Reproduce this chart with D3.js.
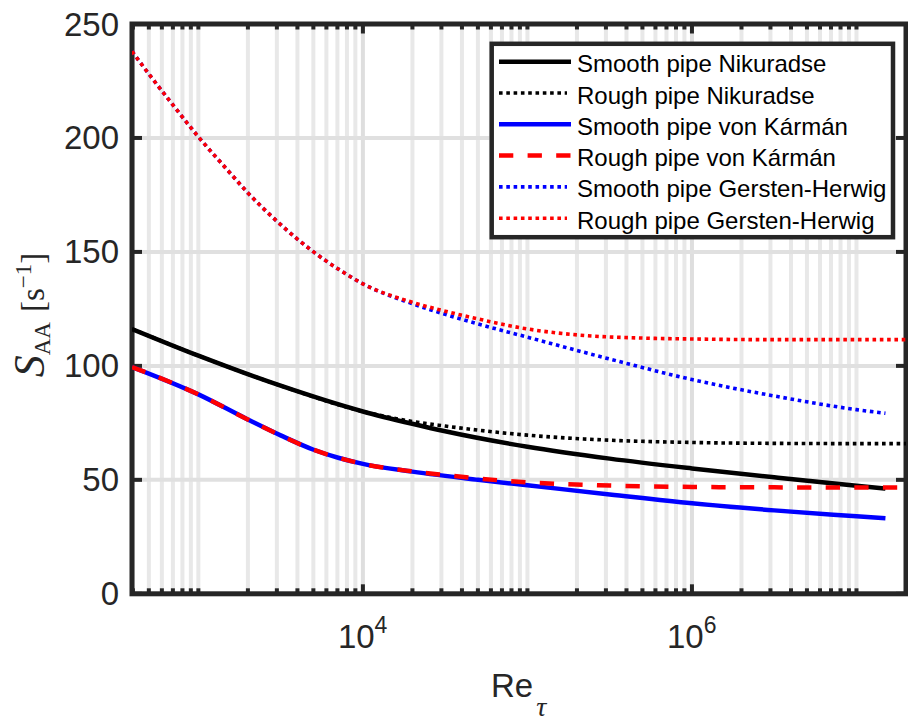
<!DOCTYPE html>
<html>
<head>
<meta charset="utf-8">
<script src="https://cdn.jsdelivr.net/npm/d3@7"></script>
<style>
  html, body { margin: 0; padding: 0; background: #fff; }
  svg { display: block; }
</style>
</head>
<body>
<div id="chart"></div>
<script>
// Re_tau sample points (log-spaced reads off the figure)
const reNikSmooth = [395, 1000, 3162, 1e4, 19953, 31623, 1e5, 316228, 1e6, 3162278, 1e7, 1.5e7];
const reNikRough  = [395, 1000, 3162, 1e4, 19953, 31623, 1e5, 316228, 1e6, 3162278, 1e7, 2e7];
const reKarSmooth = [395, 1000, 1995, 3162, 5012, 7079, 1e4, 19953, 50119, 1e5, 316228, 1e6, 3162278, 1e7, 1.5e7];
const reKarRough  = [395, 1000, 1995, 3162, 5012, 7079, 1e4, 19953, 31623, 50119, 1e5, 316228, 1e6, 3162278, 1e7, 2e7];
const reGerSmooth = [395, 501, 700, 1000, 1500, 1995, 3162, 5012, 7079, 1e4, 19953, 31623, 50119, 1e5, 316228, 1e6, 3162278, 1e7, 1.5e7];
const reGerRough  = [395, 501, 700, 1000, 1500, 1995, 3162, 5012, 7079, 1e4, 19953, 31623, 50119, 1e5, 199526, 501187, 1e6, 3162278, 2e7];

// S_AA [1/s]
const smoothNikuradse = [116.2, 104.5, 91.3, 80.0, 74.6, 71.3, 64.5, 59.3, 55.0, 51.1, 47.4, 46.2];
const roughNikuradse  = [116.2, 104.5, 91.3, 80.0, 75.6, 73.6, 69.6, 67.4, 66.4, 66.0, 65.9, 65.9];
const smoothKarman    = [99.5, 87.5, 76.5, 69.5, 63.2, 59.7, 57.0, 53.6, 50.0, 47.6, 43.6, 39.7, 36.6, 34.0, 33.1];
const roughKarman     = [99.5, 87.5, 76.5, 69.5, 63.2, 59.7, 57.0, 53.7, 52.1, 50.6, 48.9, 47.5, 46.9, 46.7, 46.6, 46.6];
const smoothGersten   = [238, 228, 214.5, 200.5, 186, 176, 162, 150, 142.5, 136, 127.3, 122.6, 118.4, 112.6, 103.0, 94.0, 86.8, 80.8, 79.2];
const roughGersten    = [238, 228, 214.5, 200.5, 186, 176, 162, 150, 142.5, 136, 127.9, 124.0, 120.6, 116.2, 113.6, 112.2, 111.8, 111.5, 111.5];

const yTicks = [0, 50, 100, 150, 200, 250];
const xMajorTicks = [1e4, 1e6];

const series = [
  { name: 'Smooth pipe Nikuradse',      re: reNikSmooth, v: smoothNikuradse, color: '#000000', style: 'solid' },
  { name: 'Rough pipe Nikuradse',       re: reNikRough,  v: roughNikuradse,  color: '#000000', style: 'dot' },
  { name: 'Smooth pipe von Kármán',     re: reKarSmooth, v: smoothKarman,    color: '#0000ff', style: 'solid' },
  { name: 'Rough pipe von Kármán',      re: reKarRough,  v: roughKarman,     color: '#ff0000', style: 'dash' },
  { name: 'Smooth pipe Gersten-Herwig', re: reGerSmooth, v: smoothGersten,   color: '#0000ff', style: 'dot' },
  { name: 'Rough pipe Gersten-Herwig',  re: reGerRough,  v: roughGersten,    color: '#ff0000', style: 'dot' }
];

const W = 908, H = 722;
const plot = { left: 132, right: 906, top: 24, bottom: 593.8 };
const AXIS = '#262626';
const SANS = "'Liberation Sans', Arial, Helvetica, sans-serif";
const SERIF = "'Liberation Serif', 'Times New Roman', serif";

const x = d3.scaleLog().domain([395, 2e7]).range([plot.left, plot.right]);
const y = d3.scaleLinear().domain([0, 250]).range([plot.bottom, plot.top]);

// minor positions 1..9 x 10^k inside the domain
const xMinor = [];
for (let k = 2; k <= 7; k++) {
  for (let m = 1; m <= 9; m++) {
    const v = m * Math.pow(10, k);
    if (v >= x.domain()[0] && v <= x.domain()[1]) xMinor.push(v);
  }
}

const svg = d3.select('#chart').append('svg').attr('width', W).attr('height', H);
svg.append('rect').attr('width', W).attr('height', H).attr('fill', '#fff');

// grid
const grid = svg.append('g');
grid.selectAll('.vgrid').data(xMinor).join('line')
  .attr('x1', d => x(d)).attr('x2', d => x(d))
  .attr('y1', plot.top).attr('y2', plot.bottom)
  .attr('stroke', d => xMajorTicks.includes(d) ? '#dedede' : '#e8e8e8')
  .attr('stroke-width', 4);
grid.selectAll('.hgrid').data(yTicks.slice(1, -1)).join('line')
  .attr('x1', plot.left).attr('x2', plot.right)
  .attr('y1', d => y(d)).attr('y2', d => y(d))
  .attr('stroke', '#e0e0e0').attr('stroke-width', 4);

// axes box and inward ticks
const ax = svg.append('g').attr('stroke', AXIS).attr('stroke-width', 4);
ax.selectAll('.xt').data(xMinor).join('g').each(function (d) {
  const len = xMajorTicks.includes(d) ? 9.5 : 5.5;
  d3.select(this).append('line').attr('x1', x(d)).attr('x2', x(d))
    .attr('y1', plot.bottom).attr('y2', plot.bottom - len);
  d3.select(this).append('line').attr('x1', x(d)).attr('x2', x(d))
    .attr('y1', plot.top).attr('y2', plot.top + len);
});
ax.selectAll('.yt').data(yTicks).join('g').each(function (d) {
  d3.select(this).append('line').attr('x1', plot.left).attr('x2', plot.left + 10)
    .attr('y1', y(d)).attr('y2', y(d));
  d3.select(this).append('line').attr('x1', plot.right).attr('x2', plot.right - 10)
    .attr('y1', y(d)).attr('y2', y(d));
});
svg.append('rect')
  .attr('x', plot.left).attr('y', plot.top)
  .attr('width', plot.right - plot.left).attr('height', plot.bottom - plot.top)
  .attr('fill', 'none').attr('stroke', AXIS).attr('stroke-width', 5);

// tick labels
svg.selectAll('.ylab').data(yTicks).join('text')
  .attr('x', 119).attr('y', d => y(d) + 11.5)
  .attr('text-anchor', 'end')
  .attr('font-family', SANS).attr('font-size', 33).attr('fill', AXIS)
  .text(d => d);

svg.selectAll('.xlab').data(xMajorTicks).join('text')
  .attr('x', d => x(d) - 25).attr('y', 648.3)
  .attr('font-family', SANS).attr('font-size', 33).attr('fill', AXIS)
  .each(function (d) {
    const t = d3.select(this);
    t.append('tspan').text('10');
    t.append('tspan').attr('font-size', 23).attr('dy', -15).text(Math.round(Math.log10(d)));
  });

// axis titles
const xt = svg.append('text')
  .attr('x', 491).attr('y', 697)
  .attr('font-family', SANS).attr('font-size', 33).attr('fill', AXIS);
xt.append('tspan').text('Re');
xt.append('tspan').attr('font-family', SERIF).attr('font-style', 'italic')
  .attr('font-size', 28).attr('dx', 3).attr('dy', 19).text('τ');

const yt = svg.append('text')
  .attr('transform', 'translate(44,315) rotate(-90)')
  .attr('text-anchor', 'middle')
  .attr('font-family', SERIF).attr('font-size', 33).attr('fill', AXIS);
yt.append('tspan').attr('font-style', 'italic').attr('font-size', 44).text('S');
yt.append('tspan').attr('font-size', 23).attr('dy', 6).text('AA');
yt.append('tspan').attr('dy', -6).attr('dx', 10).text('[s');
yt.append('tspan').attr('font-size', 23).attr('dy', -13).text('−1');
yt.append('tspan').attr('dy', 13).text(']');

// curves
const dashFor = s => s === 'dot' ? '3.6 3.7' : s === 'dash' ? '14.3 14.3' : null;
const widthFor = s => s === 'dot' ? 3.6 : 4.5;

svg.append('clipPath').attr('id', 'clip').append('rect')
  .attr('x', plot.left).attr('y', plot.top)
  .attr('width', plot.right - plot.left).attr('height', plot.bottom - plot.top);

const line = d3.line().x(d => x(d[0])).y(d => y(d[1])).curve(d3.curveMonotoneX);
svg.append('g').attr('clip-path', 'url(#clip)')
  .selectAll('path').data(series).join('path')
  .attr('d', s => line(s.re.map((r, i) => [r, s.v[i]])))
  .attr('fill', 'none')
  .attr('stroke', s => s.color)
  .attr('stroke-width', s => widthFor(s.style))
  .attr('stroke-dasharray', s => dashFor(s.style));

// legend
const lg = svg.append('g');
lg.append('rect').attr('x', 491.7).attr('y', 43.8).attr('width', 401.3).attr('height', 193.4)
  .attr('fill', '#fff').attr('stroke', AXIS).attr('stroke-width', 4.5);
const rowY = i => 61.7 + i * 31.3;
lg.selectAll('.lgline').data(series).join('line')
  .attr('x1', 499).attr('x2', s => s.style === 'dot' ? 567 : 571)
  .attr('y1', (s, i) => rowY(i)).attr('y2', (s, i) => rowY(i))
  .attr('stroke', s => s.color)
  .attr('stroke-width', s => widthFor(s.style))
  .attr('stroke-dasharray', s => dashFor(s.style));
lg.selectAll('.lgtext').data(series).join('text')
  .attr('x', 577).attr('y', (s, i) => rowY(i) + 10.5)
  .attr('font-family', SANS).attr('font-size', 24).attr('fill', '#000')
  .text(s => s.name);
</script>
</body>
</html>
